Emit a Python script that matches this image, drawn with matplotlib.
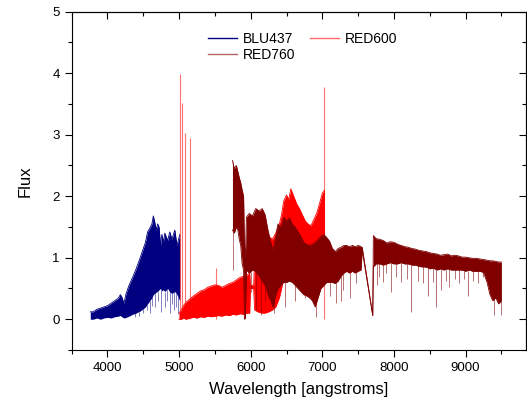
import numpy as np
import matplotlib
matplotlib.use("Agg")
import matplotlib.pyplot as plt
from matplotlib.lines import Line2D
from matplotlib.ticker import MultipleLocator

plt.rcParams['font.family'] = ['Liberation Sans', 'DejaVu Sans']

# BLU437 spectrum: noise band (upper / lower edge)
blu_wave = [3760, 3800, 3850, 3900, 3950, 4000, 4050, 4100, 4150, 4180, 4200, 4230, 4260, 4300,
            4350, 4400, 4450, 4500, 4530, 4560, 4590, 4620, 4640, 4660, 4680, 4700, 4720, 4740,
            4760, 4780, 4800, 4840, 4870, 4900, 4940, 4970, 5010]
blu_hi = [0.12, 0.12, 0.16, 0.18, 0.2, 0.22, 0.26, 0.3, 0.34, 0.4, 0.36, 0.26, 0.42, 0.55,
          0.68, 0.82, 0.98, 1.15, 1.25, 1.42, 1.48, 1.55, 1.68, 1.58, 1.45, 1.55, 1.5, 1.2,
          1.38, 1.25, 1.4, 1.28, 1.42, 1.3, 1.45, 1.2, 1.38]
blu_lo = [0.0, 0.0, 0.02, 0.0, 0.02, 0.03, 0.02, 0.04, 0.05, 0.06, 0.04, 0.02, 0.03, 0.05,
          0.08, 0.1, 0.13, 0.17, 0.2, 0.25, 0.3, 0.35, 0.4, 0.42, 0.44, 0.45, 0.48, 0.5,
          0.46, 0.48, 0.45, 0.5, 0.44, 0.42, 0.45, 0.4, 0.3]
blu_line_wave = [4390, 4440, 4500, 4545, 4590, 4625, 4661, 4700, 4745, 4800, 4835, 4870, 4900,
                 4930, 4960, 4986]
blu_line_min = [0.04, 0.06, 0.1, 0.15, 0.1, 0.22, 0.2, 0.3, 0.12, 0.2, 0.3, 0.1, 0.25, 0.15,
                0.2, 0.08]

# RED600
red_wave = [4998, 5030, 5060, 5100, 5150, 5200, 5250, 5300, 5350, 5400, 5450, 5500, 5550, 5600,
            5650, 5700, 5750, 5800, 5850, 5900, 5950, 5985, 5995, 6040, 6055, 6100, 6150, 6200,
            6250, 6300, 6350, 6400, 6430, 6460, 6500, 6530, 6560, 6600, 6640, 6680, 6720, 6760,
            6800, 6840, 6880, 6920, 6960, 7000, 7030]
red_hi = [0.1, 0.15, 0.22, 0.28, 0.33, 0.38, 0.42, 0.46, 0.48, 0.52, 0.54, 0.56, 0.55, 0.52,
          0.55, 0.58, 0.6, 0.64, 0.68, 0.7, 0.72, 0.75, 0.55, 0.55, 0.95, 1.05, 1.2, 1.3,
          1.35, 1.3, 1.4, 1.55, 1.7, 1.92, 2.02, 1.95, 2.12, 2.0, 1.88, 1.8, 1.7, 1.6,
          1.55, 1.52, 1.62, 1.72, 1.88, 2.05, 2.1]
red_lo = [0.0, 0.0, 0.02, 0.0, 0.02, 0.03, 0.02, 0.04, 0.03, 0.05, 0.04, 0.05, 0.06, 0.05,
          0.07, 0.06, 0.08, 0.07, 0.09, 0.08, 0.1, 0.1, 0.5, 0.5, 0.15, 0.12, 0.1, 0.1,
          0.12, 0.15, 0.2, 0.35, 0.5, 0.7, 0.8, 0.85, 0.9, 0.9, 0.85, 0.9, 0.9, 0.95,
          0.95, 1.0, 1.0, 1.05, 1.1, 1.1, 1.1]
red_spike_wave = [5019, 5042, 5084, 5159, 5521, 7028]
red_spike_top = [3.99, 3.51, 3.03, 2.95, 0.83, 3.77]

# RED760
r760_wave = [5745, 5770, 5800, 5820, 5840, 5860, 5880, 5900, 5912, 5925, 5940, 5980, 6025, 6070,
             6118, 6160, 6200, 6240, 6280, 6310, 6340, 6380, 6420, 6460, 6500, 6540, 6580, 6620,
             6660, 6700, 6740, 6780, 6820, 6860, 6900, 6940, 6980, 7020, 7060, 7100, 7140, 7180,
             7220, 7260, 7300, 7340, 7380, 7420, 7460, 7500, 7540, 7556, 7704, 7712, 7750, 7800,
             7850, 7900, 7950, 8000, 8050, 8100, 8150, 8200, 8250, 8300, 8350, 8400, 8450, 8500,
             8550, 8600, 8650, 8700, 8750, 8800, 8850, 8900, 8950, 9000, 9050, 9100, 9150, 9200,
             9250, 9300, 9340, 9380, 9420, 9460, 9500]
r760_hi = [2.58, 2.45, 2.5, 2.4, 2.3, 2.22, 2.1, 2.0, 1.2, 1.0, 1.66, 1.72, 1.68, 1.8,
           1.76, 1.8, 1.7, 1.45, 1.25, 1.12, 1.3, 1.55, 1.5, 1.66, 1.6, 1.65, 1.55, 1.5,
           1.42, 1.35, 1.25, 1.22, 1.2, 1.22, 1.25, 1.3, 1.35, 1.38, 1.33, 1.27, 1.15, 1.1,
           1.15, 1.17, 1.2, 1.2, 1.18, 1.2, 1.18, 1.2, 1.18, 1.17, 0.06, 1.36, 1.31, 1.3,
           1.28, 1.24, 1.26, 1.25, 1.22, 1.2, 1.18, 1.17, 1.15, 1.14, 1.12, 1.11, 1.1, 1.08,
           1.07, 1.06, 1.04, 1.05, 1.06, 1.03, 1.04, 1.03, 1.01, 1.01, 1.0, 0.99, 0.99, 0.98,
           0.97, 0.96, 0.95, 0.95, 0.94, 0.93, 0.93]
r760_lo = [1.45, 1.4, 1.5, 1.45, 1.3, 1.2, 0.9, 0.8, 0.0, 0.02, 0.8, 0.75, 0.8, 0.78,
           0.7, 0.62, 0.55, 0.4, 0.3, 0.2, 0.35, 0.5, 0.55, 0.6, 0.6, 0.62, 0.6, 0.55,
           0.5, 0.45, 0.4, 0.38, 0.35, 0.3, 0.2, 0.35, 0.5, 0.55, 0.6, 0.6, 0.6, 0.58,
           0.62, 0.7, 0.75, 0.78, 0.75, 0.78, 0.75, 0.78, 0.8, 1.12, 0.06, 0.85, 0.9, 0.9,
           0.88, 0.9, 0.92, 0.9, 0.9, 0.92, 0.9, 0.9, 0.88, 0.88, 0.86, 0.85, 0.85, 0.82,
           0.83, 0.8, 0.82, 0.8, 0.82, 0.8, 0.8, 0.8, 0.8, 0.78, 0.8, 0.78, 0.78, 0.78,
           0.76, 0.6, 0.4, 0.3, 0.35, 0.25, 0.3]
r760_line_wave = [5753, 6000, 6079, 6148, 6194, 6330, 6473, 6620, 6752, 6915, 7007, 7100, 7194,
                  7263, 7286, 7380, 7473, 7760, 7797, 7850, 7891, 7960, 8030, 8100, 8180, 8239,
                  8330, 8401, 8471, 8540, 8588, 8657, 8720, 8773, 8850, 8913, 8980, 9028, 9100,
                  9168, 9240, 9307, 9401, 9494]
r760_line_min = [0.8, 0.45, 0.15, 0.07, 0.29, 0.1, 0.2, 0.3, 0.34, 0.04, 0.56, 0.37, 0.26,
                 0.29, 0.48, 0.34, 0.59, 0.55, 0.69, 0.6, 0.75, 0.45, 0.69, 0.6, 0.65, 0.12,
                 0.62, 0.59, 0.37, 0.6, 0.2, 0.48, 0.62, 0.53, 0.65, 0.59, 0.66, 0.37, 0.62,
                 0.59, 0.68, 0.64, 0.07, 0.07]

c_blu = '#000080'
c_red = '#ff0000'
c_r760 = '#800000'

fig = plt.figure(figsize=(5.27, 4.09), dpi=100)
ax = fig.add_axes([0.136, 0.1443, 0.863, 0.827])

# blue
ax.fill_between(blu_wave, blu_lo, blu_hi, color=c_blu, lw=0, zorder=2)
ax.plot(blu_wave, blu_hi, color=c_blu, lw=0.6, zorder=2)
ax.vlines(blu_line_wave, blu_line_min, np.interp(blu_line_wave, blu_wave, blu_lo),
          color=c_blu, lw=0.7, alpha=0.5, zorder=2)

# red
ax.fill_between(red_wave, red_lo, red_hi, color=c_red, lw=0, zorder=3)
ax.plot(red_wave, red_hi, color=c_red, lw=0.6, zorder=3)
ax.plot(red_wave, red_lo, color=c_red, lw=0.6, zorder=3)
ax.vlines(red_spike_wave, 0.0, red_spike_top, color=c_red, lw=0.8, alpha=0.55, zorder=3)

# dark red on top
ax.fill_between(r760_wave, r760_lo, r760_hi, color=c_r760, lw=0, zorder=4)
ax.plot(r760_wave, r760_hi, color=c_r760, lw=0.6, zorder=4)
ax.plot(r760_wave, r760_lo, color=c_r760, lw=0.6, zorder=4)
ax.vlines(r760_line_wave, r760_line_min, np.interp(r760_line_wave, r760_wave, r760_lo),
          color=c_r760, lw=0.7, alpha=0.55, zorder=4)

ax.set_xlim(3500, 9850)
ax.set_ylim(-0.5, 5)
ax.set_xticks([4000, 5000, 6000, 7000, 8000, 9000])
ax.set_yticks([0, 1, 2, 3, 4, 5])
ax.xaxis.set_minor_locator(MultipleLocator(500))
ax.yaxis.set_minor_locator(MultipleLocator(0.5))
ax.tick_params(which='major', direction='out', length=5, width=0.8, labelsize=9.5)
ax.tick_params(which='minor', direction='out', length=3, width=0.8)

# inward ticks on top and right
top = ax.secondary_xaxis('top')
top.set_xticks([4000, 5000, 6000, 7000, 8000, 9000])
top.xaxis.set_minor_locator(MultipleLocator(500))
top.tick_params(which='major', direction='in', length=5, width=0.8, labeltop=False)
top.tick_params(which='minor', direction='in', length=3, width=0.8)
right = ax.secondary_yaxis('right')
right.set_yticks([0, 1, 2, 3, 4, 5])
right.yaxis.set_minor_locator(MultipleLocator(0.5))
right.tick_params(which='major', direction='in', length=5, width=0.8, labelright=False)
right.tick_params(which='minor', direction='in', length=3, width=0.8)

ax.set_xlabel('Wavelength [angstroms]', fontsize=12, labelpad=6)
ax.set_ylabel('Flux', fontsize=12, labelpad=14)

handles = [Line2D([], [], color=c_blu, lw=1),
           Line2D([], [], color=c_r760, lw=1, alpha=0.6),
           Line2D([], [], color=c_red, lw=1, alpha=0.6)]
ax.legend(handles, ['BLU437', 'RED760', 'RED600'], ncol=2, frameon=False, fontsize=10,
          loc='upper left', bbox_to_anchor=(0.284, 0.962), borderpad=0, handlelength=2.1,
          handletextpad=0.4, columnspacing=1.1, labelspacing=0.15)

fig.savefig('out.png', dpi=100)
